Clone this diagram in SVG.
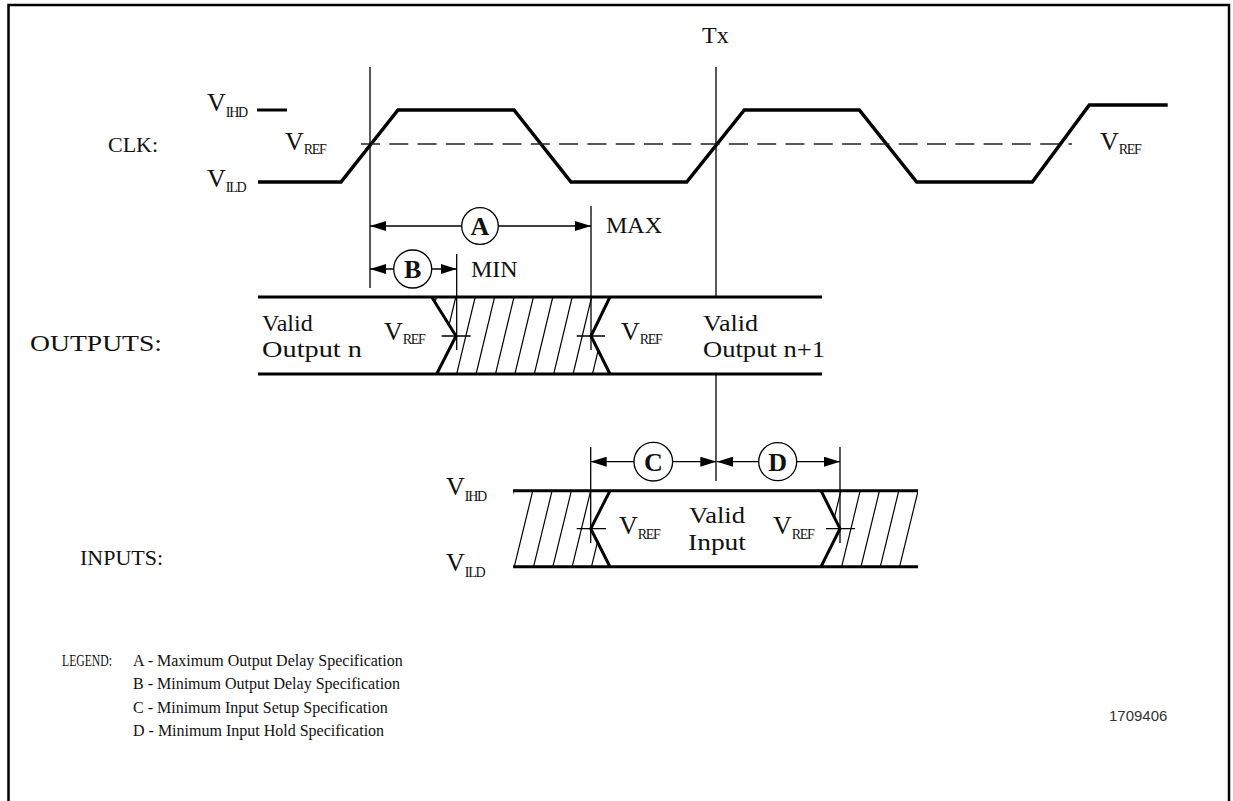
<svg xmlns="http://www.w3.org/2000/svg" width="1233" height="801" viewBox="0 0 1233 801">
<style>
text{font-family:"Liberation Serif","Times New Roman",serif;fill:#111}
.lbl{font-size:22px}
.big{font-size:24px}
.v{font-size:26px}
.s{font-size:14px;letter-spacing:-1.3px}
.leg{font-size:16px}
.circ{font-size:26px;font-weight:bold;text-anchor:middle}
.wave{fill:none;stroke:#000;stroke-width:3.5;stroke-linejoin:miter}
.bus{fill:none;stroke:#000;stroke-width:3}
.thin{fill:none;stroke:#000;stroke-width:1.3}
.hatch{fill:none;stroke:#000;stroke-width:1.2}
.dash{fill:none;stroke:#222;stroke-width:1.3;stroke-dasharray:19 9.3}
.arr{fill:none;stroke:#000;stroke-width:1.3;marker-start:url(#ah);marker-end:url(#ah)}
.cir{fill:#fff;stroke:#000;stroke-width:1.3}
</style>
<defs>
<marker id="ah" viewBox="0 0 16 10" refX="16" refY="5" markerWidth="16" markerHeight="10" markerUnits="userSpaceOnUse" orient="auto-start-reverse"><path d="M0,0 L16,5 L0,10 z" fill="#000"/></marker>
<clipPath id="cOut"><polygon points="431.7,297 610,297 591,336 610,374 436.7,374 456,336"/></clipPath>
<clipPath id="cInL"><polygon points="513,490.7 610,490.7 590.7,528.7 610,566.7 513,566.7"/></clipPath>
<clipPath id="cInR"><polygon points="821,490.7 918,490.7 918,566.7 821,566.7 840,528.7"/></clipPath>
</defs>
<rect width="1233" height="801" fill="#fff"/>
<path d="M8.5,801 V5 H1229 V801" fill="none" stroke="#000" stroke-width="2.5"/>

<g id="clk">
<text class="lbl" x="108" y="152">CLK:</text>
<text class="big" x="702" y="43">Tx</text>
<path class="wave" d="M258,182 L341,182 L398,110 L514,110 L571,182 L686.7,182 L744.3,110 L859.3,110 L916.7,182 L1032.3,182 L1089.3,105 L1167.7,105"/>
<path class="bus" d="M257,110 H287"/>
<path class="dash" d="M361,144 H1072"/>
<text id="clk-vihd" class="v" x="207" y="111">V<tspan class="s" dy="6">IHD</tspan></text>
<text id="clk-vild" class="v" x="207" y="187">V<tspan class="s" dy="5">ILD</tspan></text>
<text id="clk-vref1" class="v" x="285" y="150">V<tspan class="s" dy="4">REF</tspan></text>
<text id="clk-vref2" class="v" x="1100" y="150">V<tspan class="s" dy="4">REF</tspan></text>
</g>

<g id="connectors">
<path class="thin" d="M370,67 V288"/>
<path class="thin" d="M716,67 V297 M716,374 V481"/>
<path class="thin" d="M591,206 V350"/>
<path class="thin" d="M456.7,254 V350"/>
<path class="thin" d="M590.7,447 V543"/>
<path class="thin" d="M840,447 V543"/>
<path class="thin" d="M441.7,336 H470.7 M576.7,336 H605 M576.7,528.7 H606 M826,528.7 H855"/>
<line class="arr" x1="370" y1="226" x2="591" y2="226"/>
<line class="arr" x1="370" y1="269" x2="456.7" y2="269"/>
<line class="arr" x1="590.7" y1="461.7" x2="716.3" y2="461.7"/>
<line class="arr" x1="717" y1="461.7" x2="840" y2="461.7"/>
</g>

<g id="spec-A"><circle class="cir" cx="480" cy="226" r="18.3"/><text class="circ" x="480" y="235">A</text><text class="big" x="606" y="233">MAX</text></g>
<g id="spec-B"><circle class="cir" cx="412.7" cy="269" r="19"/><text class="circ" x="412.7" y="278">B</text><text class="big" x="471" y="277">MIN</text></g>
<g id="spec-C"><circle class="cir" cx="653.3" cy="461.7" r="19.3"/><text class="circ" x="653.3" y="471">C</text></g>
<g id="spec-D"><circle class="cir" cx="777.7" cy="461.7" r="19"/><text class="circ" x="777.7" y="471">D</text></g>

<g id="outputs">
<text class="lbl" x="30" y="351" textLength="132" lengthAdjust="spacingAndGlyphs" style="font-size:23px">OUTPUTS:</text>
<path class="bus" d="M258,297 H822 M258,374 H822"/>
<path class="bus" d="M431.7,297 L456,336 L436.7,374 M610,297 L591,336 L610,374"/>
<path class="hatch" clip-path="url(#cOut)" d="M417.9,374 L436.4,297 M437.3,374 L455.8,297 M456.7,374 L475.2,297 M476.1,374 L494.6,297 M495.5,374 L514,297 M514.9,374 L533.4,297 M534.3,374 L552.8,297 M553.7,374 L572.2,297 M573.1,374 L591.6,297 M592.5,374 L611,297 M611.9,374 L630.4,297"/>
<text class="big" x="262" y="331">Valid</text>
<text class="big" x="262" y="357" textLength="100" lengthAdjust="spacingAndGlyphs">Output n</text>
<text class="big" x="703" y="331" textLength="55" lengthAdjust="spacingAndGlyphs">Valid</text>
<text class="big" x="703" y="357" textLength="122" lengthAdjust="spacingAndGlyphs">Output n+1</text>
<text id="out-vref1" class="v" x="384" y="340">V<tspan class="s" dy="4">REF</tspan></text>
<text id="out-vref2" class="v" x="621" y="340">V<tspan class="s" dy="4">REF</tspan></text>
</g>

<g id="inputs">
<text class="lbl" x="80" y="565">INPUTS:</text>
<path class="bus" d="M513,490.7 H918 M513,566.7 H918"/>
<path class="bus" d="M610,490.7 L590.7,528.7 L610,566.7 M821,490.7 L840,528.7 L821,566.7"/>
<path class="hatch" clip-path="url(#cInL)" d="M495,566.7 L513.5,490.7 M514.3,566.7 L532.8,490.7 M533.6,566.7 L552.1,490.7 M552.9,566.7 L571.4,490.7 M572.2,566.7 L590.7,490.7 M591.5,566.7 L610,490.7 M610.8,566.7 L629.3,490.7"/>
<path class="hatch" clip-path="url(#cInR)" d="M803.1,566.7 L821.6,490.7 M822.4,566.7 L840.9,490.7 M841.7,566.7 L860.2,490.7 M861,566.7 L879.5,490.7 M880.3,566.7 L898.8,490.7 M899.6,566.7 L918.1,490.7 M918.9,566.7 L937.4,490.7"/>
<text class="big" x="689" y="523" textLength="56" lengthAdjust="spacingAndGlyphs">Valid</text>
<text class="big" x="688" y="550" textLength="58" lengthAdjust="spacingAndGlyphs">Input</text>
<text id="in-vihd" class="v" x="446" y="495">V<tspan class="s" dy="6">IHD</tspan></text>
<text id="in-vild" class="v" x="446" y="571">V<tspan class="s" dy="6">ILD</tspan></text>
<text id="in-vref1" class="v" x="619" y="534">V<tspan class="s" dy="5">REF</tspan></text>
<text id="in-vref2" class="v" x="773" y="534">V<tspan class="s" dy="5">REF</tspan></text>
</g>

<g id="legend">
<text class="leg" x="62" y="666" textLength="50" lengthAdjust="spacingAndGlyphs">LEGEND:</text>
<text class="leg" x="133" y="666">A - Maximum Output Delay Specification</text>
<text class="leg" x="133" y="689">B - Minimum Output Delay Specification</text>
<text class="leg" x="133" y="713">C - Minimum Input Setup Specification</text>
<text class="leg" x="133" y="736">D - Minimum Input Hold Specification</text>
</g>
<text x="1109" y="721" style="font-family:'Liberation Sans',Arial,sans-serif;font-size:15px;fill:#333">1709406</text>
</svg>
